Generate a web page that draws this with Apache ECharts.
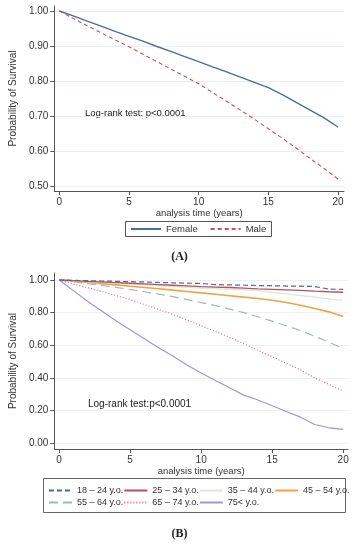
<!DOCTYPE html>
<html>
<head>
<meta charset="utf-8">
<script src="https://cdn.jsdelivr.net/npm/echarts@6/dist/echarts.min.js"></script>
<style>html,body{margin:0;padding:0;background:#fff}#c{width:359px;height:550px}</style>
</head>
<body>
<div id="c"></div>
<script>
// ---------- data ----------
const years = [0,1,2,3,4,5,6,7,8,9,10,11,12,13,14,15,16,17,18,19,20];
const female = [1.000,0.986,0.971,0.957,0.942,0.928,0.914,0.899,0.885,0.870,0.856,0.841,0.827,0.812,0.797,0.782,0.762,0.740,0.718,0.696,0.670];
const male   = [1.000,0.979,0.958,0.938,0.918,0.898,0.877,0.856,0.835,0.814,0.793,0.768,0.743,0.718,0.692,0.665,0.638,0.610,0.580,0.552,0.522];

const age18_24 = [1.000,0.998,0.996,0.994,0.992,0.990,0.988,0.985,0.983,0.981,0.979,0.972,0.970,0.968,0.966,0.965,0.963,0.962,0.960,0.944,0.943];
const age25_34 = [1.000,0.996,0.992,0.988,0.984,0.980,0.976,0.972,0.968,0.964,0.960,0.957,0.954,0.950,0.946,0.943,0.940,0.937,0.932,0.928,0.925];
const age35_44 = [1.000,0.995,0.990,0.985,0.980,0.975,0.970,0.965,0.960,0.955,0.950,0.947,0.943,0.940,0.935,0.925,0.915,0.905,0.895,0.885,0.875];
const age45_54 = [1.000,0.993,0.986,0.978,0.970,0.962,0.954,0.946,0.938,0.930,0.921,0.913,0.904,0.895,0.887,0.876,0.862,0.845,0.826,0.805,0.776];
const age55_64 = [1.000,0.990,0.978,0.967,0.955,0.942,0.928,0.914,0.898,0.880,0.862,0.843,0.822,0.800,0.775,0.748,0.720,0.690,0.655,0.620,0.580];
const age65_74 = [1.000,0.975,0.953,0.930,0.905,0.880,0.850,0.820,0.790,0.755,0.720,0.685,0.650,0.610,0.570,0.530,0.490,0.450,0.400,0.360,0.320];
const age75    = [1.000,0.935,0.870,0.810,0.750,0.695,0.640,0.585,0.535,0.480,0.430,0.385,0.340,0.295,0.265,0.230,0.195,0.160,0.115,0.095,0.085];

const xTicks = [0,5,10,15,20];
const yTicksA = [0.5,0.6,0.7,0.8,0.9,1.0];
const yTicksB = [0,0.2,0.4,0.6,0.8,1.0];

const sexNames = ['Female','Male'];
const ageNames = ['18 – 24 y.o.','25 – 34 y.o.','35 – 44 y.o.','45 – 54 y.o.','55 – 64 y.o.','65 – 74 y.o.','75< y.o.'];
const ageData = [age18_24,age25_34,age35_44,age45_54,age55_64,age65_74,age75];

// ---------- styles ----------
const FONT = 'Liberation Sans, Arial, sans-serif';
const axisColor = '#555';
const textColor = '#333';
const ageStyles = [
  {color:'#4d6b99', width:1.2, type:[5,3]},
  {color:'#b4525e', width:1.3, type:'solid'},
  {color:'#e4e4da', width:1.3, type:'solid'},
  {color:'#f0a243', width:1.6, type:'solid'},
  {color:'#a3b8b0', width:1.2, type:[9,5]},
  {color:'#e4627c', width:1.1, type:[1,2]},
  {color:'#9d94e2', width:1.2, type:'solid'}
];

function pairs(vals){ return years.map((t,i)=>[t,vals[i]]); }

function xAxisCfg(gridIndex, min, max){
  return {
    type:'value', gridIndex, min, max,
    name:'analysis time (years)', nameLocation:'middle', nameGap:15,
    nameTextStyle:{fontFamily:FONT, fontSize:9.5, color:textColor},
    axisLine:{show:true, onZero:false, lineStyle:{color:axisColor, width:1}},
    axisTick:{show:true, length:4, customValues:xTicks, lineStyle:{color:axisColor}},
    axisLabel:{customValues:xTicks, margin:6, fontFamily:FONT, fontSize:10, color:textColor},
    splitLine:{show:false}
  };
}
function yAxisCfg(gridIndex, min, max, ticks, gridColor, nameGap){
  return {
    type:'value', gridIndex, min, max,
    name:'Probability of Survival', nameLocation:'middle', nameGap,
    nameTextStyle:{fontFamily:FONT, fontSize:10, color:textColor},
    axisLine:{show:true, onZero:false, lineStyle:{color:axisColor, width:1}},
    axisTick:{show:true, length:4, customValues:ticks, lineStyle:{color:axisColor}},
    axisLabel:{customValues:ticks, margin:6, fontFamily:FONT, fontSize:10, color:textColor,
               formatter:v=>v.toFixed(2)},
    splitLine:{show:true, lineStyle:{color:gridColor, width:1}}
  };
}

const series = [
  {name:sexNames[0], type:'line', xAxisIndex:0, yAxisIndex:0, data:pairs(female), symbol:'none',
   lineStyle:{color:'#4b6f97', width:1.4}, itemStyle:{color:'#4b6f97'}},
  {name:sexNames[1], type:'line', xAxisIndex:0, yAxisIndex:0, data:pairs(male), symbol:'none',
   lineStyle:{color:'#c4515c', width:1.1, type:[4,3]}, itemStyle:{color:'#c4515c'}}
];
ageNames.forEach((n,i)=>{
  series.push({name:n, type:'line', xAxisIndex:1, yAxisIndex:1, data:pairs(ageData[i]), symbol:'none',
    lineStyle:ageStyles[i], itemStyle:{color:ageStyles[i].color}, z:10-i});
});

const legendText = {fontFamily:FONT, fontSize:9, color:textColor};
const legendItem = {opacity:0, borderWidth:0};

const option = {
  animation:false,
  backgroundColor:'#fff',
  grid:[
    {left:53, right:15, top:6, height:185},
    {left:40, right:11, top:273, height:176}
  ],
  xAxis:[ xAxisCfg(0, -0.357, 20.43), xAxisCfg(1, -0.336, 20.34) ],
  yAxis:[ yAxisCfg(0, 0.4878, 1.0142, yTicksA, '#e6eff0', 31),
          yAxisCfg(1, -0.0349, 1.0429, yTicksB, '#efefef', 29) ],
  legend:[
    {data:sexNames, left:130, top:224, width:200, itemWidth:30, itemHeight:8, itemGap:12, padding:0,
     textStyle:{fontFamily:FONT, fontSize:9.5, color:textColor}, itemStyle:legendItem},
    {data:ageNames.slice(0,4), left:48, top:486, width:320, itemWidth:23, itemHeight:8, itemGap:0, padding:0,
     textStyle:legendText, itemStyle:legendItem},
    {data:ageNames.slice(4), left:48, top:498, width:320, itemWidth:23, itemHeight:8, itemGap:0, padding:0,
     textStyle:legendText, itemStyle:legendItem}
  ],
  graphic:[
    {type:'rect', shape:{x:125.5, y:221.5, width:146, height:15}, style:{fill:'none', stroke:'#555', lineWidth:1}, silent:true, z:-1},
    {type:'rect', shape:{x:43.5, y:478.5, width:302, height:34}, style:{fill:'none', stroke:'#666', lineWidth:1}, silent:true, z:-1},
    {type:'text', left:85, top:108, style:{text:'Log-rank test: p<0.0001', font:'9.5px '+FONT, fill:'#222'}},
    {type:'text', left:88, top:399, style:{text:'Log-rank test:p<0.0001', font:'10px '+FONT, fill:'#222'}},
    {type:'text', left:'center', top:251, style:{text:'(A)', font:'bold 12px Liberation Serif, Times New Roman, serif', fill:'#222'}},
    {type:'text', left:'center', top:528, style:{text:'(B)', font:'bold 12px Liberation Serif, Times New Roman, serif', fill:'#222'}}
  ],
  series
};

const chart = echarts.init(document.getElementById('c'), null, {renderer:'canvas'});
chart.setOption(option);
</script>
</body>
</html>
